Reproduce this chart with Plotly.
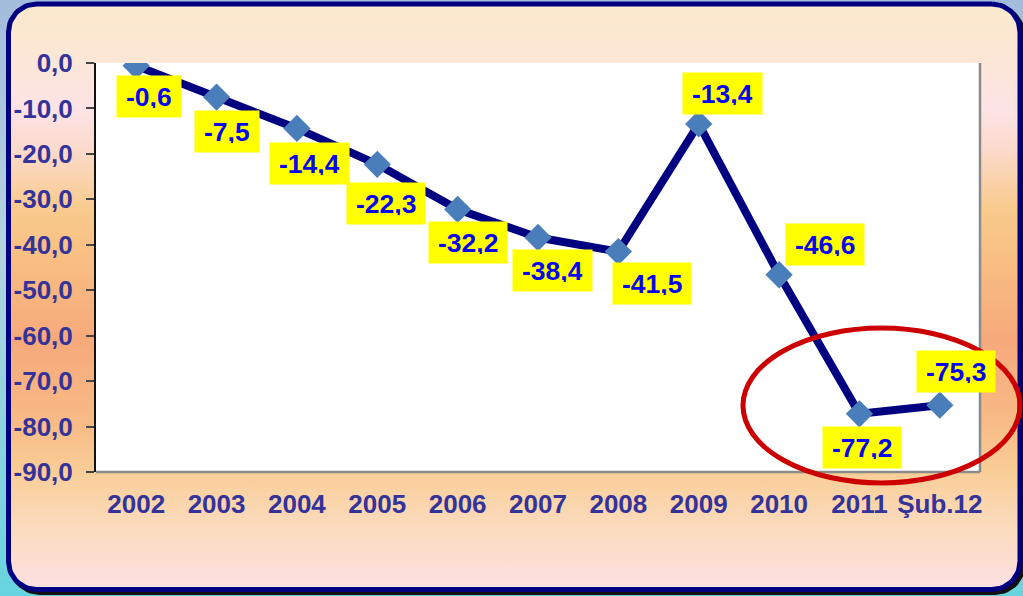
import numpy as np
import plotly.graph_objects as go

# ---------------- data ----------------
categories = ['2002', '2003', '2004', '2005', '2006', '2007', '2008', '2009', '2010', '2011', 'Şub.12']
values = [-0.6, -7.5, -14.4, -22.3, -32.2, -38.4, -41.5, -13.4, -46.6, -77.2, -75.3]
y_tick_values = [0, -10, -20, -30, -40, -50, -60, -70, -80, -90]
y_tick_labels = ['0,0', '-10,0', '-20,0', '-30,0', '-40,0', '-50,0', '-60,0', '-70,0', '-80,0', '-90,0']

# ---------------- styles ----------------
W, H = 1023, 596
FONT = 'Liberation Sans, Arial, sans-serif'
AXIS_TEXT = '#333399'
LABEL_TEXT = '#0808E8'
# data-label offsets in pixels (xshift, yshift)
label_dx = [13, 10, 13, 9, 10, 14, 34, 24, 46, 3, 16]
label_dy = [-31, -34, -35, -39, -33, -33, -32, 30, 30, -34, 34]

PLOT_L, PLOT_R, PLOT_T, PLOT_B = 96, 980, 63, 472


def rounded_rect(x0, y0, x1, y1, r, n=16):
    pts = []
    corners = [(x1 - r, y0 + r, -90, 0), (x1 - r, y1 - r, 0, 90),
               (x0 + r, y1 - r, 90, 180), (x0 + r, y0 + r, 180, 270)]
    for cx, cy, a0, a1 in corners:
        for a in np.linspace(np.radians(a0), np.radians(a1), n):
            pts.append((cx + r * np.cos(a), cy + r * np.sin(a)))
    pts.append(pts[0])
    xs = [p[0] for p in pts]
    ys = [H - p[1] for p in pts]
    return xs, ys


def scale(stops):
    out = sorted(((H - py) / H, c) for py, c in stops)
    return [[round(p, 4), c] for p, c in out]


outer_stops = [(0, '#A4BCDC'), (250, '#B4D2DE'), (596, '#66D4DF')]
inner_stops = [(0, '#FBE9CB'), (55, '#FCE7D6'), (110, '#FDE3E6'), (150, '#FCDACB'),
               (210, '#F9CA8C'), (260, '#F8BE82'), (340, '#F6A97B'), (420, '#F8BA86'),
               (470, '#F9CD96'), (530, '#FBDCC0'), (596, '#FDE1E6')]

fig = go.Figure()

# slide background
fig.add_trace(go.Scatter(
    x=[0, W, W, 0, 0], y=[0, 0, H, H, 0], mode='lines', fill='toself',
    line=dict(width=0), fillgradient=dict(type='vertical', colorscale=scale(outer_stops), start=0, stop=H),
    hoverinfo='skip', xaxis='x', yaxis='y'))

# panel shadow
sx, sy = rounded_rect(8.5 + 3, 4 + 3, 1020 + 3, 589.5 + 3, 28)
fig.add_trace(go.Scatter(x=sx, y=sy, mode='lines', fill='toself', fillcolor='#111111',
                         line=dict(color='#111111', width=5), hoverinfo='skip', xaxis='x', yaxis='y'))

# framed panel
rx, ry = rounded_rect(8.5, 4, 1020, 589.5, 28)
fig.add_trace(go.Scatter(
    x=rx, y=ry, mode='lines', fill='toself',
    fillgradient=dict(type='vertical', colorscale=scale(inner_stops), start=0, stop=H),
    line=dict(color='#000080', width=5), hoverinfo='skip', xaxis='x', yaxis='y'))

# main series
fig.add_trace(go.Scatter(
    x=categories, y=values, xaxis='x2', yaxis='y2', mode='lines+markers',
    line=dict(color='#000080', width=8),
    marker=dict(symbol='diamond', size=21, color='#4A7EBB', line=dict(width=0)),
    hoverinfo='skip'))

annotations = []
for i, (v, dx, dy) in enumerate(zip(values, label_dx, label_dy)):
    annotations.append(dict(
        x=i, y=v, xref='x2', yref='y2', text=f'{v:.1f}'.replace('.', ','), showarrow=False,
        xshift=dx, yshift=dy, bgcolor='#FFFF00', borderpad=9, height=23,
        font=dict(family=FONT, size=26.5, color=LABEL_TEXT, weight='bold')))

dom_x = [PLOT_L / W, PLOT_R / W]
dom_y = [(H - PLOT_B) / H, (H - PLOT_T) / H]

shapes = [
    dict(type='line', xref='x2 domain', yref='y2 domain', x0=1, x1=1, y0=0, y1=1,
         line=dict(color='#8A8A8A', width=2.5), layer='above'),
    dict(type='line', xref='x2 domain', yref='y2 domain', x0=0, x1=1, y0=0, y1=0,
         line=dict(color='#8A8A8A', width=2.5), layer='above'),
    dict(type='circle', xref='paper', yref='paper',
         x0=743 / W, x1=1020 / W, y0=(H - 483) / H, y1=(H - 328) / H,
         line=dict(color='#CC0000', width=5), layer='above'),
]

fig.update_layout(
    width=W, height=H, autosize=False, margin=dict(l=0, r=0, t=0, b=0, pad=0, autoexpand=False),
    paper_bgcolor='#A9CFE0', plot_bgcolor='#FFFFFF', showlegend=False,
    separators=',.',
    xaxis=dict(domain=[0, 1], range=[0, W], visible=False, fixedrange=True),
    yaxis=dict(domain=[0, 1], range=[0, H], visible=False, fixedrange=True),
    xaxis2=dict(domain=dom_x, anchor='y2', type='category', range=[-0.5, 10.5],
                showline=False, ticks='', showgrid=False, zeroline=False, automargin=False,
                tickfont=dict(family=FONT, size=26, color=AXIS_TEXT, weight='bold'),
                ticklabelstandoff=14),
    xaxis3=dict(overlaying='x2', anchor='y2', side='top', range=[-0.5, 10.5],
                tickmode='array', tickvals=[i - 0.5 for i in range(len(categories) + 1)],
                ticks='inside', ticklen=7, tickwidth=1.5, tickcolor='#222222',
                showticklabels=False, showline=True, linecolor='#111111', linewidth=2,
                showgrid=False, zeroline=False, automargin=False),
    yaxis2=dict(domain=dom_y, anchor='x2', range=[-90, 0], tickmode='array',
                tickvals=y_tick_values, ticktext=y_tick_labels, automargin=False,
                ticks='outside', ticklen=8, tickwidth=1.5, tickcolor='#444444',
                showline=True, linecolor='#111111', linewidth=2, showgrid=False, zeroline=False,
                tickfont=dict(family=FONT, size=26, color=AXIS_TEXT, weight='bold'),
                ticklabelstandoff=8),
    annotations=annotations, shapes=shapes,
)

fig.write_html('out.html', config={'displayModeBar': False},
               post_script="document.body.style.margin='0';")
